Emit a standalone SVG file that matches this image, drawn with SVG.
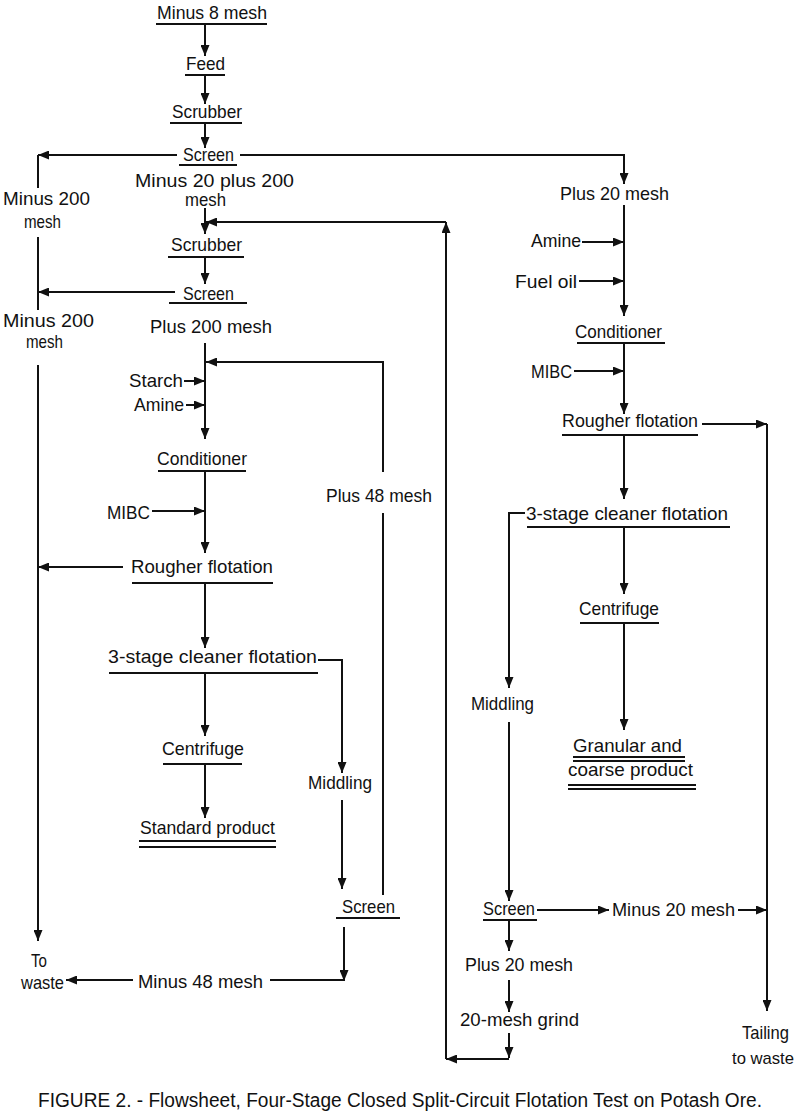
<svg xmlns="http://www.w3.org/2000/svg" width="800" height="1118" viewBox="0 0 800 1118">
<style>
.t{font-family:"Liberation Sans",Arial,sans-serif;font-size:19px;fill:#111}
.cap{font-family:"Liberation Sans",Arial,sans-serif;font-size:20px;fill:#111}
.u{stroke:#111;stroke-width:2}
.c{stroke:#111;stroke-width:2;fill:none}
.a{stroke:#111;stroke-width:2;fill:none;marker-end:url(#ah)}
</style>
<defs>
<marker id="ah" viewBox="0 0 10 10" refX="10" refY="5" markerWidth="11" markerHeight="9" markerUnits="userSpaceOnUse" orient="auto" preserveAspectRatio="none">
<path d="M0,0 L10,5 L0,10 z" fill="#111"/>
</marker>
</defs>
<rect width="800" height="1118" fill="#fff"/>
<g id="connectors">
<path class="a" d="M205,25 V56"/>
<path class="a" d="M205,76 V104"/>
<path class="a" d="M205,124 V148"/>
<path class="a" d="M177,155 H38"/>
<path class="c" d="M38,155 V188"/>
<path class="a" d="M240,155 H624 V184"/>
<path class="a" d="M205,208 V234"/>
<path class="a" d="M205,258 V284"/>
<path class="a" d="M175,292 H38"/>
<path class="c" d="M38,237 V310"/>
<path class="a" d="M38,365 V941"/>
<path class="a" d="M205,343 V439"/>
<path class="a" d="M184,381 H205"/>
<path class="a" d="M186,405 H205"/>
<path class="c" d="M383,895 V513"/>
<path class="a" d="M383,472 V362 H206"/>
<path class="a" d="M205,472 V553"/>
<path class="a" d="M152,511 H205"/>
<path class="a" d="M205,584 V648"/>
<path class="a" d="M123,567 H38"/>
<path class="a" d="M318,660 H342 V773"/>
<path class="a" d="M205,674 V736"/>
<path class="a" d="M205,765 V818"/>
<path class="a" d="M342,800 V889"/>
<path class="c" d="M270,980 H344"/>
<path class="a" d="M344,927 V981"/>
<path class="a" d="M133,980 H66"/>
<path class="a" d="M624,205 V316"/>
<path class="a" d="M582,242 H624"/>
<path class="a" d="M579,281 H624"/>
<path class="a" d="M624,344 V414"/>
<path class="a" d="M574,371 H624"/>
<path class="a" d="M702,424 H767"/>
<path class="a" d="M767,424 V1011"/>
<path class="a" d="M624,436 V499"/>
<path class="a" d="M525,513 H509 V688"/>
<path class="a" d="M624,528 V594"/>
<path class="a" d="M624,624 V730"/>
<path class="a" d="M509,722 V901"/>
<path class="a" d="M537,910 H609"/>
<path class="a" d="M738,910 H767"/>
<path class="a" d="M509,921 V951"/>
<path class="a" d="M509,980 V1012"/>
<path class="a" d="M509,1033 V1058"/>
<path class="a" d="M509,1059 H446"/>
<path class="a" d="M446,1059 V222"/>
<path class="a" d="M446,222 H206"/>
</g>
<g id="minus8"><text class="t" x="157" y="19" textLength="110" lengthAdjust="spacingAndGlyphs">Minus 8 mesh</text><line class="u" x1="156" y1="24" x2="267" y2="24"/></g>
<g id="feed"><text class="t" x="186" y="70" textLength="39" lengthAdjust="spacingAndGlyphs">Feed</text><line class="u" x1="185" y1="75" x2="225" y2="75"/></g>
<g id="scrubber1"><text class="t" x="172" y="118" textLength="70" lengthAdjust="spacingAndGlyphs">Scrubber</text><line class="u" x1="170" y1="123" x2="242" y2="123"/></g>
<g id="screen1"><text class="t" x="183" y="161" textLength="51" lengthAdjust="spacingAndGlyphs">Screen</text><line class="u" x1="179" y1="165" x2="237" y2="165"/></g>
<g id="minus20plus200"><text class="t" x="135" y="187" textLength="159" lengthAdjust="spacingAndGlyphs">Minus 20 plus 200</text><text class="t" x="185" y="206" textLength="41" lengthAdjust="spacingAndGlyphs">mesh</text></g>
<g id="minus200a"><text class="t" x="3" y="205" textLength="87" lengthAdjust="spacingAndGlyphs">Minus 200</text><text class="t" x="24" y="228" textLength="37" lengthAdjust="spacingAndGlyphs">mesh</text></g>
<g id="scrubber2"><text class="t" x="171" y="251" textLength="71" lengthAdjust="spacingAndGlyphs">Scrubber</text><line class="u" x1="168" y1="257" x2="244" y2="257"/></g>
<g id="screen2"><text class="t" x="183" y="300" textLength="51" lengthAdjust="spacingAndGlyphs">Screen</text><line class="u" x1="169" y1="303" x2="247" y2="303"/></g>
<g id="minus200b"><text class="t" x="3" y="327" textLength="91" lengthAdjust="spacingAndGlyphs">Minus 200</text><text class="t" x="26" y="348" textLength="37" lengthAdjust="spacingAndGlyphs">mesh</text></g>
<g id="plus200"><text class="t" x="150" y="333" textLength="122" lengthAdjust="spacingAndGlyphs">Plus 200 mesh</text></g>
<g id="starch"><text class="t" x="129" y="387" textLength="54" lengthAdjust="spacingAndGlyphs">Starch</text></g>
<g id="amine1"><text class="t" x="134" y="411" textLength="50" lengthAdjust="spacingAndGlyphs">Amine</text></g>
<g id="conditioner1"><text class="t" x="157" y="465" textLength="90" lengthAdjust="spacingAndGlyphs">Conditioner</text><line class="u" x1="158" y1="471" x2="246" y2="471"/></g>
<g id="mibc1"><text class="t" x="107" y="519" textLength="43" lengthAdjust="spacingAndGlyphs">MIBC</text></g>
<g id="rougher1"><text class="t" x="131" y="573" textLength="142" lengthAdjust="spacingAndGlyphs">Rougher flotation</text><line class="u" x1="132" y1="583" x2="273" y2="583"/></g>
<g id="plus48"><text class="t" x="326" y="502" textLength="106" lengthAdjust="spacingAndGlyphs">Plus 48 mesh</text></g>
<g id="cleaner1"><text class="t" x="108" y="663" textLength="209" lengthAdjust="spacingAndGlyphs">3-stage cleaner flotation</text><line class="u" x1="109" y1="673" x2="318" y2="673"/></g>
<g id="centrifuge1"><text class="t" x="162" y="755" textLength="82" lengthAdjust="spacingAndGlyphs">Centrifuge</text><line class="u" x1="163" y1="764" x2="242" y2="764"/></g>
<g id="standard"><text class="t" x="140" y="834" textLength="135" lengthAdjust="spacingAndGlyphs">Standard product</text><line class="u" x1="139" y1="841" x2="276" y2="841"/><line class="u" x1="139" y1="847" x2="276" y2="847"/></g>
<g id="middling1"><text class="t" x="308" y="789" textLength="64" lengthAdjust="spacingAndGlyphs">Middling</text></g>
<g id="screen3"><text class="t" x="342" y="913" textLength="53" lengthAdjust="spacingAndGlyphs">Screen</text><line class="u" x1="336" y1="918" x2="400" y2="918"/></g>
<g id="towaste"><text class="t" x="31" y="967" textLength="16" lengthAdjust="spacingAndGlyphs">To</text><text class="t" x="21" y="989" textLength="43" lengthAdjust="spacingAndGlyphs">waste</text></g>
<g id="minus48"><text class="t" x="138" y="988" textLength="125" lengthAdjust="spacingAndGlyphs">Minus 48 mesh</text></g>
<g id="plus20a"><text class="t" x="560" y="200" textLength="109" lengthAdjust="spacingAndGlyphs">Plus 20 mesh</text></g>
<g id="amine2"><text class="t" x="531" y="247" textLength="50" lengthAdjust="spacingAndGlyphs">Amine</text></g>
<g id="fueloil"><text class="t" x="515" y="288" textLength="62" lengthAdjust="spacingAndGlyphs">Fuel oil</text></g>
<g id="conditioner2"><text class="t" x="575" y="338" textLength="87" lengthAdjust="spacingAndGlyphs">Conditioner</text><line class="u" x1="577" y1="343" x2="665" y2="343"/></g>
<g id="mibc2"><text class="t" x="531" y="378" textLength="41" lengthAdjust="spacingAndGlyphs">MIBC</text></g>
<g id="rougher2"><text class="t" x="562" y="427" textLength="136" lengthAdjust="spacingAndGlyphs">Rougher flotation</text><line class="u" x1="562" y1="435" x2="698" y2="435"/></g>
<g id="cleaner2"><text class="t" x="526" y="520" textLength="202" lengthAdjust="spacingAndGlyphs">3-stage cleaner flotation</text><line class="u" x1="527" y1="527" x2="730" y2="527"/></g>
<g id="centrifuge2"><text class="t" x="579" y="615" textLength="80" lengthAdjust="spacingAndGlyphs">Centrifuge</text><line class="u" x1="580" y1="623" x2="659" y2="623"/></g>
<g id="middling2"><text class="t" x="471" y="710" textLength="63" lengthAdjust="spacingAndGlyphs">Middling</text></g>
<g id="granular"><text class="t" x="573" y="752" textLength="109" lengthAdjust="spacingAndGlyphs">Granular and</text><line class="u" x1="573" y1="757" x2="685" y2="757"/><line class="u" x1="573" y1="761" x2="685" y2="761"/><text class="t" x="568" y="776" textLength="125" lengthAdjust="spacingAndGlyphs">coarse product</text><line class="u" x1="568" y1="785" x2="696" y2="785"/><line class="u" x1="568" y1="789" x2="696" y2="789"/></g>
<g id="screen4"><text class="t" x="483" y="915" textLength="52" lengthAdjust="spacingAndGlyphs">Screen</text><line class="u" x1="483" y1="920" x2="537" y2="920"/></g>
<g id="minus20"><text class="t" x="612" y="916" textLength="123" lengthAdjust="spacingAndGlyphs">Minus 20 mesh</text></g>
<g id="plus20b"><text class="t" x="465" y="971" textLength="108" lengthAdjust="spacingAndGlyphs">Plus 20 mesh</text></g>
<g id="grind"><text class="t" x="460" y="1026" textLength="119" lengthAdjust="spacingAndGlyphs">20-mesh grind</text></g>
<g id="tailing"><text class="t" x="742" y="1039" textLength="47" lengthAdjust="spacingAndGlyphs">Tailing</text><text class="t" x="732" y="1064" style="font-size:17px" textLength="62" lengthAdjust="spacingAndGlyphs">to waste</text></g>
<text class="cap" x="38" y="1107" textLength="724" lengthAdjust="spacingAndGlyphs">FIGURE 2. - Flowsheet, Four-Stage Closed Split-Circuit Flotation Test on Potash Ore.</text>
</svg>
